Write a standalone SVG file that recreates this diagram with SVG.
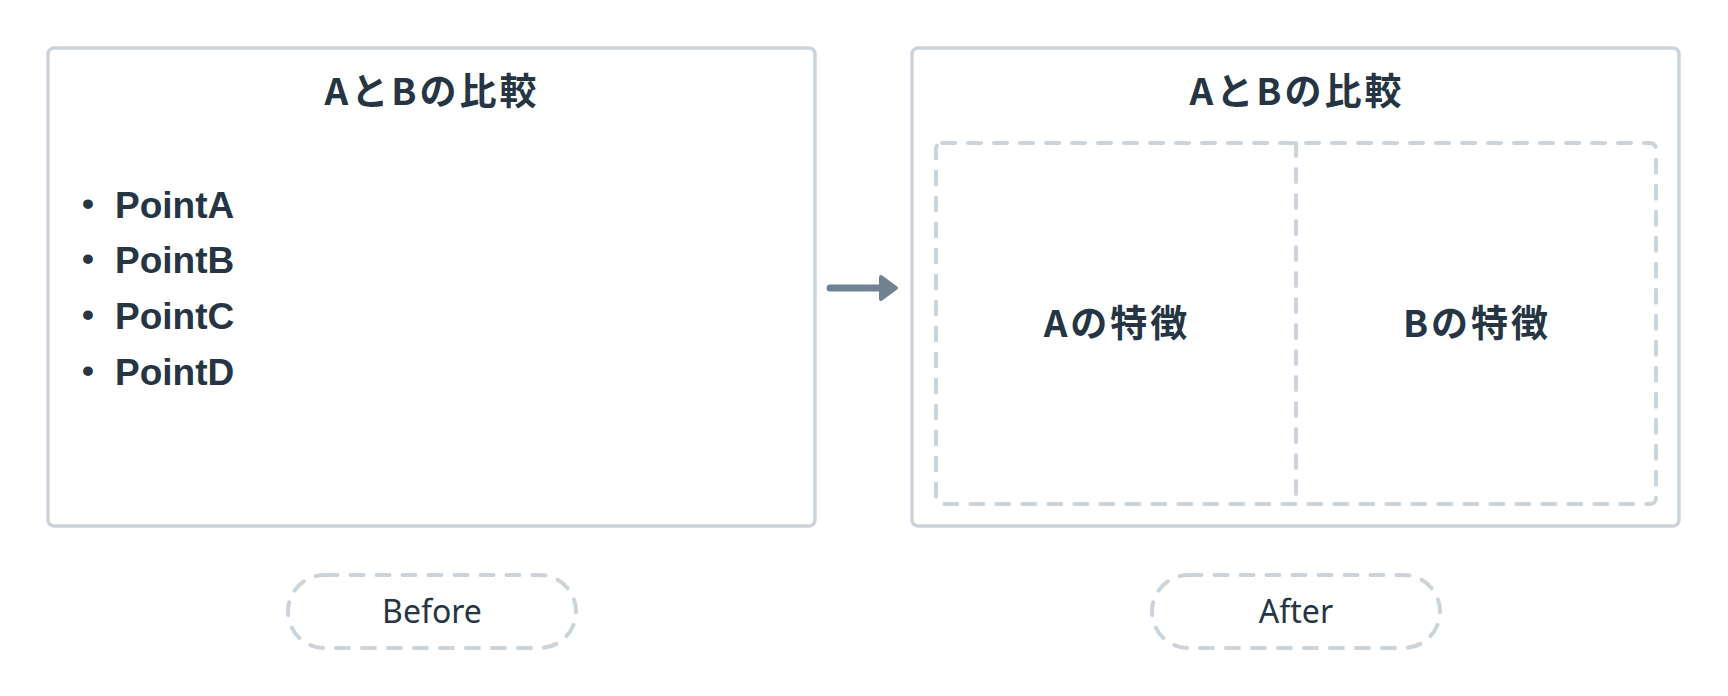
<svg xmlns="http://www.w3.org/2000/svg" width="1728" height="696" viewBox="0 0 1728 696">
<style>
.box{fill:#fff;stroke:#cbd3db;stroke-width:3.5}
.dash{fill:none;stroke:#cbd3db;stroke-width:4;stroke-dasharray:13 13;stroke-linecap:round}
.title{font-family:"Noto Sans CJK JP","Liberation Sans",sans-serif;font-weight:700;font-size:37px;fill:#253544;letter-spacing:3px;text-anchor:middle}
.pt{font-family:"Liberation Sans","Noto Sans CJK JP",sans-serif;font-weight:700;font-size:37px;fill:#253544}
.bul{font-family:"Liberation Sans",sans-serif;font-weight:700;font-size:34px;fill:#253544}
.lbl{font-family:"Noto Sans","Liberation Sans",sans-serif;font-size:32px;fill:#253544;text-anchor:middle}
</style>
<rect width="1728" height="696" fill="#fff"/>
<g id="before">
<rect class="box" x="48" y="48" width="767" height="478" rx="6"/>
<text class="title" x="432" y="105">AとBの比較</text>
<text class="bul" x="82" y="215">•</text>
<text class="pt" x="115" y="218">PointA</text>
<text class="bul" x="82" y="270">•</text>
<text class="pt" x="115" y="273">PointB</text>
<text class="bul" x="82" y="326">•</text>
<text class="pt" x="115" y="329">PointC</text>
<text class="bul" x="82" y="382">•</text>
<text class="pt" x="115" y="385">PointD</text>
</g>
<g id="after">
<rect class="box" x="912" y="48" width="767" height="478" rx="6"/>
<text class="title" x="1297" y="105">AとBの比較</text>
<rect class="dash" x="936" y="143" width="720" height="361" rx="6"/>
<line class="dash" x1="1296" y1="143" x2="1296" y2="504"/>
<text class="title" x="1117" y="337">Aの特徴</text>
<text class="title" x="1477" y="337">Bの特徴</text>
</g>
<g id="before-label">
<rect class="dash" x="288" y="575" width="288" height="73" rx="36.5"/>
<text class="lbl" x="432" y="623">Before</text>
</g>
<g id="after-label">
<rect class="dash" x="1152" y="575" width="288" height="73" rx="36.5"/>
<text class="lbl" x="1296" y="623">After</text>
</g>
<g id="connectors">
<line x1="830" y1="288" x2="884" y2="288" stroke="#718393" stroke-width="7" stroke-linecap="round"/>
<polygon points="881,277 896,288 881,299" fill="#718393" stroke="#718393" stroke-width="4" stroke-linejoin="round"/>
</g>
</svg>
